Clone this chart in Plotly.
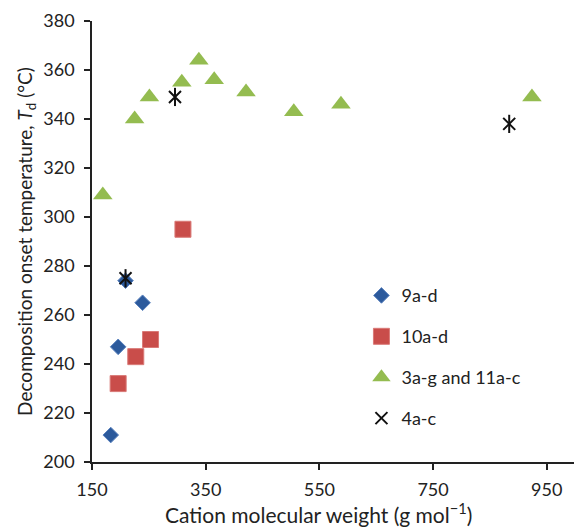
import plotly.graph_objects as go

# Data
x_9 = [183, 196, 209, 239]
y_9 = [211, 247, 274, 265]

x_10 = [196, 227, 253, 310]
y_10 = [232, 243, 250, 295]

x_3_11 = [169, 225, 251, 308, 338, 365, 421, 505, 588, 924]
y_3_11 = [309, 340, 349, 355, 364, 356, 351, 343, 346, 349]

x_4 = [209, 296, 884]
y_4 = [275, 349, 338]

x_ticks = [150, 350, 550, 750, 950]
y_ticks = [200, 220, 240, 260, 280, 300, 320, 340, 360, 380]

x_title = "Cation molecular weight (g mol<sup>\u22121</sup>)"
y_title = "Decomposition onset temperature, <i>T</i><sub>d</sub> (\u00b0C)"

FONT = "Lato"

fig = go.Figure()
fig.add_trace(go.Scatter(
    x=x_9, y=y_9, mode="markers", name="9a-d", legendgroup="g1",
    marker=dict(symbol="diamond", size=12, color="#2C5A9C",
                line=dict(width=1, color="#5A82BE"))))
fig.add_trace(go.Scatter(
    x=x_10, y=y_10, mode="markers", name="10a-d", legendgroup="g2",
    marker=dict(symbol="square", size=16, color="#C94D4A",
                line=dict(width=1, color="#D97A77"))))
fig.add_trace(go.Scatter(
    x=x_3_11, y=y_3_11, mode="markers", name="3a-g and 11a-c", legendgroup="g3",
    marker=dict(symbol="triangle-up", size=17, color="#94BC50",
                line=dict(width=0))))
fig.add_trace(go.Scatter(
    x=x_4, y=y_4, mode="markers", name="4a-c", legendgroup="g4",
    marker=dict(symbol="x-thin-open", size=12, color="#111111",
                line=dict(width=2, color="#111111"))))
fig.add_trace(go.Scatter(
    x=x_4, y=y_4, mode="markers", name="4a-c", legendgroup="g4",
    showlegend=False,
    marker=dict(symbol="line-ns-open", size=13, color="#111111",
                line=dict(width=2, color="#111111"))))

fig.update_layout(
    width=574, height=531,
    margin=dict(l=92, r=0, t=21, b=69),
    paper_bgcolor="white", plot_bgcolor="white",
    font=dict(family=FONT, size=18, color="#222222"),
    showlegend=True,
    legend=dict(x=0.559, y=0.419, xanchor="left", yanchor="top",
                traceorder="grouped", tracegroupgap=14.5,
                font=dict(family=FONT, size=18, color="#222222"),
                bgcolor="rgba(0,0,0,0)"),
    xaxis=dict(range=[150, 998], tickvals=x_ticks, showgrid=False,
               zeroline=False, showline=True, linecolor="#222222", linewidth=1.5,
               ticks="outside", ticklen=6, tickcolor="#222222", tickwidth=1.5,
               ticklabelstandoff=5,
               tickfont=dict(family=FONT, size=18)),
    yaxis=dict(range=[200, 380], tickvals=y_ticks, showgrid=False,
               zeroline=False, showline=True, linecolor="#222222", linewidth=1.5,
               ticks="outside", ticklen=6, tickcolor="#222222", tickwidth=1.5,
               ticklabelstandoff=6,
               tickfont=dict(family=FONT, size=18),
               title=dict(text=y_title, font=dict(family=FONT, size=19), standoff=6)),
    annotations=[dict(text=x_title, xref="paper", yref="paper",
                      x=0.469, y=-0.151, xanchor="center", yanchor="bottom",
                      showarrow=False, font=dict(family=FONT, size=21, color="#222222"))],
)

fig.write_html("out.html")
